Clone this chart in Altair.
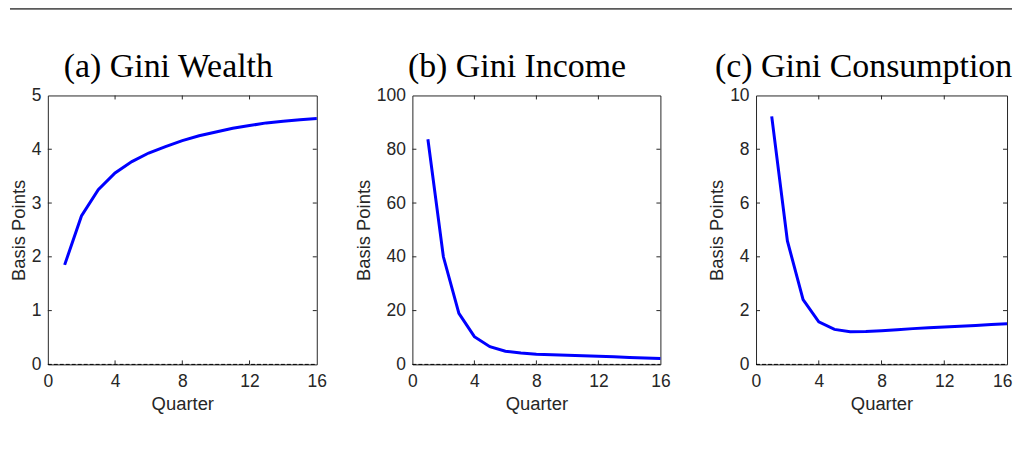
import altair as alt
import pandas as pd

quarters = list(range(1, 17))
gini_wealth = [1.85, 2.76, 3.25, 3.56, 3.77, 3.93, 4.05, 4.16, 4.25, 4.32, 4.39, 4.44, 4.49, 4.52, 4.55, 4.57]
gini_income = [83.7, 40.0, 19.0, 10.3, 6.6, 4.9, 4.2, 3.8, 3.6, 3.4, 3.2, 3.0, 2.8, 2.6, 2.4, 2.2]
gini_consumption = [9.22, 4.59, 2.41, 1.58, 1.30, 1.21, 1.22, 1.25, 1.29, 1.33, 1.36, 1.39, 1.42, 1.45, 1.48, 1.51]

titles = ["(a) Gini Wealth", "(b) Gini Income", "(c) Gini Consumption"]
y_max = [5, 100, 10]
y_ticks = [[0, 1, 2, 3, 4, 5], [0, 20, 40, 60, 80, 100], [0, 2, 4, 6, 8, 10]]
x_ticks = [0, 4, 8, 12, 16]
x_label = "Quarter"
y_label = "Basis Points"

AX = "#262626"
SANS = "Liberation Sans"
H = 270


def panel(values, title, ymax, yticks, width, title_x, separator=False, flush=False):
    df = pd.DataFrame({"Quarter": quarters, "v": values})
    xs = alt.Scale(domain=[0, 16], nice=False, zero=False)
    ys = alt.Scale(domain=[0, ymax], nice=False)
    xaxis_kw = dict(values=x_ticks, title=x_label, grid=False, domain=False, ticks=False,
                    labelPadding=8, titlePadding=5, labelFont=SANS, labelFontSize=17.5,
                    titleFont=SANS, titleFontSize=18.5, titleFontWeight="normal",
                    labelColor=AX, titleColor=AX, format="d")
    if flush:
        xaxis_kw.update(labelFlush=True, labelFlushOffset=5)
    else:
        xaxis_kw.update(labelFlush=False)
    xaxis = alt.Axis(**xaxis_kw)
    yaxis = alt.Axis(values=yticks, title=y_label, grid=False, domain=False, ticks=False,
                     labelPadding=7, titlePadding=3, labelFont=SANS, labelFontSize=17.5,
                     titleFont=SANS, titleFontSize=18.5, titleFontWeight="normal",
                     labelColor=AX, titleColor=AX, format="d", labelFlush=False)
    line = alt.Chart(df).mark_line(color="#0000ff", strokeWidth=3).encode(
        x=alt.X("Quarter:Q", scale=xs, axis=xaxis),
        y=alt.Y("v:Q", scale=ys, axis=yaxis),
    )
    zero = alt.Chart(pd.DataFrame({"x": [0], "x2": [16], "y": [0]})).mark_rule(
        color="black", strokeDash=[4, 2], strokeWidth=1
    ).encode(
        x=alt.X("x:Q", scale=xs, axis=xaxis),
        x2="x2:Q",
        y=alt.Y("y:Q", scale=ys, axis=yaxis),
    )
    xt = pd.DataFrame({"t": x_ticks[1:-1]})
    yt = pd.DataFrame({"t": yticks[1:-1]})
    top_t = alt.Chart(xt).mark_rule(color=AX, strokeWidth=1).encode(
        x=alt.X("t:Q", scale=xs, axis=xaxis), y=alt.value(0), y2=alt.value(4))
    bot_t = alt.Chart(xt).mark_rule(color=AX, strokeWidth=1).encode(
        x=alt.X("t:Q", scale=xs, axis=xaxis), y=alt.value(H), y2=alt.value(H - 4))
    left_t = alt.Chart(yt).mark_rule(color=AX, strokeWidth=1).encode(
        y=alt.Y("t:Q", scale=ys, axis=yaxis), x=alt.value(0), x2=alt.value(4))
    right_t = alt.Chart(yt).mark_rule(color=AX, strokeWidth=1).encode(
        y=alt.Y("t:Q", scale=ys, axis=yaxis), x=alt.value(width), x2=alt.value(width - 4))
    ttl = alt.Chart(pd.DataFrame({"title": [title]})).mark_text(
        font="Liberation Serif", fontSize=34, color="black", align="center",
        baseline="alphabetic"
    ).encode(text="title:N", x=alt.value(title_x), y=alt.value(-19))
    layers = [line, zero, top_t, bot_t, left_t, right_t, ttl]
    if separator:
        sep = alt.Chart(pd.DataFrame({"a": [0]})).mark_rule(color="#5a5a5a", strokeWidth=2).encode(
            x=alt.value(-38), x2=alt.value(968), y=alt.value(-87))
        layers.append(sep)
    return alt.layer(*layers).properties(
        width=width, height=H,
        view=alt.ViewBackground(stroke=AX, strokeWidth=1),
    )


pa = panel(gini_wealth, titles[0], y_max[0], y_ticks[0], 270, 121, separator=True)
pb = panel(gini_income, titles[1], y_max[1], y_ticks[1], 249, 105)
pc = panel(gini_consumption, titles[2], y_max[2], y_ticks[2], 252, 108, flush=True)

chart = alt.hconcat(pa, pb, pc, spacing=96, bounds="flush").properties(
    padding={"left": 0, "top": -2, "right": 0, "bottom": 0}
).configure(background="white")

chart.save("out.html", embed_options={"renderer": "svg", "actions": False})
